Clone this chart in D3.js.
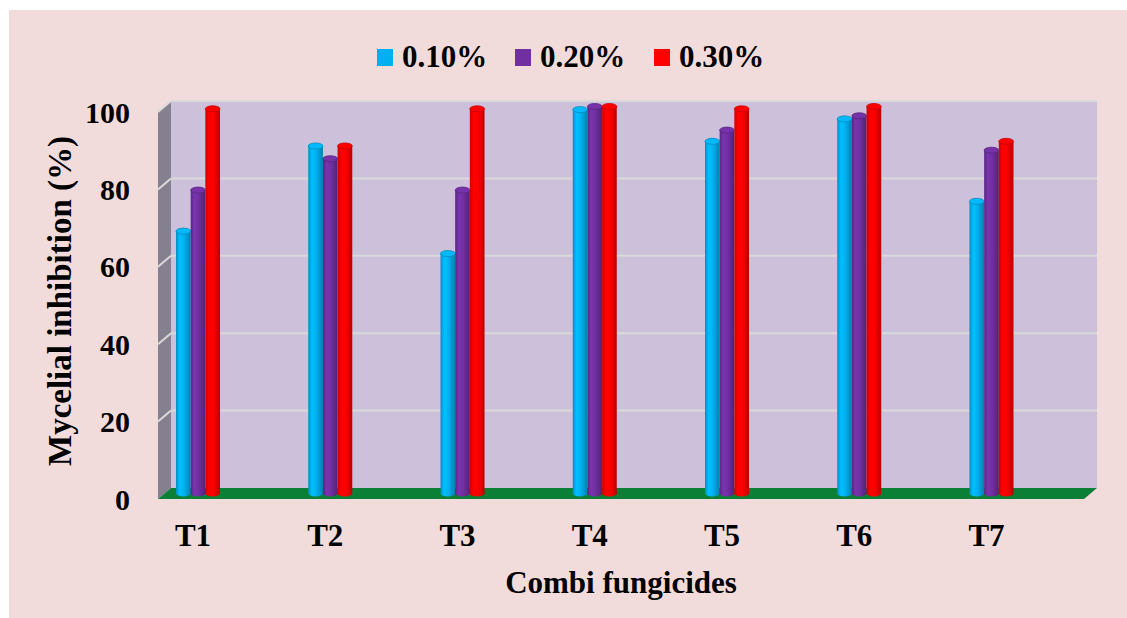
<!DOCTYPE html>
<html>
<head>
<meta charset="utf-8">
<script src="https://cdn.jsdelivr.net/npm/d3@7"></script>
<style>
  html, body { margin: 0; padding: 0; background: #ffffff; }
  svg { display: block; }
  text { font-family: "Liberation Serif", "Times New Roman", serif; font-weight: bold; fill: #000; }
</style>
</head>
<body>
<svg id="chart" width="1127" height="618"></svg>
<script>
// Treatments (combination fungicides) and concentration series
const categories = ["T1", "T2", "T3", "T4", "T5", "T6", "T7"];
const seriesNames = ["0.10%", "0.20%", "0.30%"];
const seriesColors = ["#00B0F0", "#7030A0", "#FF0000"];
const conc010 = [67.8, 89.8, 62.0, 99.2, 91.0, 96.8, 75.5];
const conc020 = [78.4, 86.5, 78.4, 100.0, 93.9, 97.6, 88.7];
const conc030 = [99.4, 89.8, 99.4, 100.0, 99.4, 100.0, 91.0];
const yTicks = [0, 20, 40, 60, 80, 100];

const seriesValues = [conc010, conc020, conc030];

const svg = d3.select("#chart");

// Chart area background
svg.append("rect")
  .attr("x", 9).attr("y", 10).attr("width", 1118).attr("height", 608)
  .attr("fill", "#F2DCDB");

// 3D box geometry: back wall plane and depth offset toward the viewer
const back = { left: 171, right: 1097, top: 101, bottom: 488 };
const depth = { dx: -13, dy: 11 };

const y = d3.scaleLinear().domain([0, 100]).range([back.bottom, back.top]);
const x = d3.scaleBand().domain(categories).range([131.9, 1057.6]).paddingInner(0).paddingOuter(0);
const xs = d3.scaleBand().domain(seriesNames).range([-22, 22]).padding(0);

// Back wall
svg.append("rect")
  .attr("x", back.left).attr("y", back.top)
  .attr("width", back.right - back.left).attr("height", back.bottom - back.top)
  .attr("fill", "#CCC0DA");

// Left side wall
svg.append("polygon")
  .attr("points", [
    [back.left + depth.dx, back.top + depth.dy],
    [back.left, back.top],
    [back.left, back.bottom],
    [back.left + depth.dx, back.bottom + depth.dy]
  ].map(p => p.join(",")).join(" "))
  .attr("fill", "#858090");

// Gridlines on back wall and side wall
const grid = svg.append("g");
yTicks.filter(t => t > 0).forEach(t => {
  grid.append("line")
    .attr("x1", back.left).attr("x2", back.right)
    .attr("y1", y(t)).attr("y2", y(t))
    .attr("stroke", "#D9D9D9").attr("stroke-width", 2);
  grid.append("line")
    .attr("x1", back.left + depth.dx).attr("x2", back.left)
    .attr("y1", y(t) + depth.dy).attr("y2", y(t))
    .attr("stroke", "#D9D9D9").attr("stroke-width", 2);
});

// Floor
svg.append("polygon")
  .attr("points", [
    [back.left, back.bottom],
    [back.right, back.bottom],
    [back.right + depth.dx, back.bottom + depth.dy],
    [back.left + depth.dx, back.bottom + depth.dy]
  ].map(p => p.join(",")).join(" "))
  .attr("fill", "#0B7F36");

// Cylinder shading gradients
const defs = svg.append("defs");
seriesColors.forEach((c, i) => {
  const base = d3.color(c);
  const g = defs.append("linearGradient").attr("id", "cyl" + i)
    .attr("x1", "0%").attr("x2", "100%").attr("y1", "0%").attr("y2", "0%");
  g.append("stop").attr("offset", "0%").attr("stop-color", base.darker(0.6));
  g.append("stop").attr("offset", "25%").attr("stop-color", base.brighter(0.25));
  g.append("stop").attr("offset", "55%").attr("stop-color", base);
  g.append("stop").attr("offset", "100%").attr("stop-color", base.darker(0.9));
});

// Bars sit at mid depth
const mid = { dx: depth.dx / 2, dy: depth.dy / 2 };
const ry = 3;
const bars = svg.append("g");
categories.forEach((cat, ci) => {
  seriesNames.forEach((s, si) => {
    const v = seriesValues[si][ci];
    const cx = x(cat) + x.bandwidth() / 2 + xs(s) + xs.bandwidth() / 2 + mid.dx + 6.5;
    const w = xs.bandwidth();
    const x0 = cx - w / 2;
    const yTop = y(v) + mid.dy;
    const yBot = y(0) + mid.dy;
    const base = d3.color(seriesColors[si]);
    const gcyl = bars.append("g");
    gcyl.append("ellipse")
      .attr("cx", cx).attr("cy", yBot).attr("rx", w / 2).attr("ry", ry)
      .attr("fill", `url(#cyl${si})`);
    gcyl.append("rect")
      .attr("x", x0).attr("y", yTop).attr("width", w).attr("height", yBot - yTop)
      .attr("fill", `url(#cyl${si})`);
    gcyl.append("ellipse")
      .attr("cx", cx).attr("cy", yTop).attr("rx", w / 2).attr("ry", ry)
      .attr("fill", base.brighter(0.15))
      .attr("stroke", base.darker(0.7)).attr("stroke-width", 0.8);
  });
});

// Y axis tick labels on the front edge
const yAxis = svg.append("g");
yTicks.forEach(t => {
  yAxis.append("text")
    .attr("x", 130).attr("y", y(t) + depth.dy)
    .attr("dy", "0.35em")
    .attr("text-anchor", "end")
    .attr("font-size", 30)
    .text(t);
});

// Category labels
const xAxis = svg.append("g");
categories.forEach(cat => {
  xAxis.append("text")
    .attr("x", x(cat) + x.bandwidth() / 2 - 5)
    .attr("y", 546)
    .attr("text-anchor", "middle")
    .attr("font-size", 31)
    .text(cat);
});

// Axis titles
svg.append("text")
  .attr("x", 621).attr("y", 593)
  .attr("text-anchor", "middle")
  .attr("font-size", 31)
  .text("Combi fungicides");

svg.append("text")
  .attr("transform", "translate(71,301) rotate(-90)")
  .attr("text-anchor", "middle")
  .attr("font-size", 33)
  .text("Mycelial inhibition (%)");

// Legend
const legendX = [377, 515, 654];
const legend = svg.append("g");
seriesNames.forEach((s, i) => {
  legend.append("rect")
    .attr("x", legendX[i]).attr("y", 49).attr("width", 16).attr("height", 17)
    .attr("fill", seriesColors[i]);
  legend.append("text")
    .attr("x", legendX[i] + 25).attr("y", 67)
    .attr("font-size", 31)
    .text(s);
});
</script>
</body>
</html>
